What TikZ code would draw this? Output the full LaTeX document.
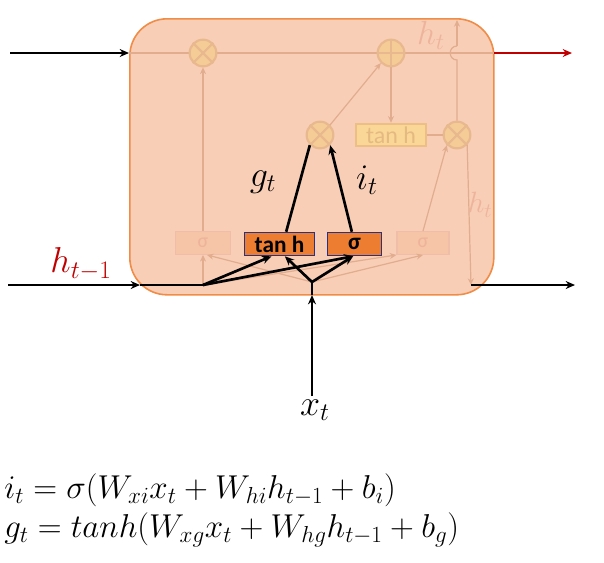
\RequirePackage{fix-cm}
\documentclass[tikz,border=0pt]{standalone}
\usepackage{fontspec}
\newfontfamily\cali{Carlito}
\usetikzlibrary{arrows.meta}
\definecolor{cellfill}{RGB}{248,206,182}
\definecolor{celledge}{RGB}{240,140,70}
\definecolor{fline}{RGB}{226,172,142}
\definecolor{fcircfill}{RGB}{246,204,150}
\definecolor{fcircedge}{RGB}{232,184,142}
\definecolor{ftanfill}{RGB}{250,215,150}
\definecolor{ftanedge}{RGB}{236,192,132}
\definecolor{ftantext}{RGB}{228,186,130}
\definecolor{fsigfill}{RGB}{246,196,166}
\definecolor{fsigedge}{RGB}{240,190,168}
\definecolor{ftext}{RGB}{238,180,155}
\definecolor{mainbox}{RGB}{237,125,49}
\definecolor{boxedge}{RGB}{40,50,130}
\definecolor{redline}{RGB}{192,0,0}
\tikzset{
  faded/.style={draw=fline, line width=0.9pt},
  fcirc/.style={circle, draw=fcircedge, fill=fcircfill, line width=1.6pt, minimum size=20pt, inner sep=0pt},
  ftan/.style={draw=ftanedge, fill=ftanfill, line width=1.4pt, minimum width=52pt, minimum height=17pt, inner sep=0pt, font=\cali\fontsize{18}{18}\selectfont, text=ftantext},
  fsig/.style={draw=fsigedge, fill=fsigfill, line width=0.9pt, minimum height=17pt, inner sep=0pt, font=\cali\fontsize{15}{15}\selectfont, text=ftext},
  mbox/.style={draw=boxedge, fill=mainbox, line width=0.9pt, minimum height=17.5pt, inner sep=0pt, font=\cali\bfseries\fontsize{17.5}{17.5}\selectfont},
  thick arrow/.style={line width=2pt, -{Stealth[length=7pt,width=6pt]}},
  thin arrow/.style={line width=1pt, -{Stealth[length=7pt,width=6pt]}},
  farrow/.style={faded, -{Stealth[length=5pt,width=4.5pt]}},
}
\begin{document}
\begin{tikzpicture}[x=0.75pt,y=-0.75pt]
\useasboundingbox (0,0) rectangle (604,562);
% cell
\node[draw=celledge, fill=cellfill, line width=1.2pt, rounded corners=28pt, minimum width=273pt, minimum height=207pt, inner sep=0pt, anchor=north west] (cell) at (129,18) {};
% coordinates
\coordinate (cin) at (129,53);
\coordinate (cout) at (494,53);
\coordinate (hin) at (140,285);
\coordinate (jl) at (203,285);
\coordinate (jx) at (312,282);
\coordinate (xin) at (312,295);
\coordinate (hout) at (471,285);
% faded top line
\draw[faded] (cin) -- (cout);
% faded circles
\node[fcirc] (m1) at (203,53) {};
\node[fcirc] (p1) at (391,53) {};
\node[fcirc] (m2) at (320,135) {};
\node[fcirc] (m3) at (457,135) {};
\foreach \n in {m1,m2,m3}{
  \draw[fcircedge, line width=1.6pt] (\n.north west) -- (\n.south east) (\n.north east) -- (\n.south west);
}
\draw[fcircedge, line width=1.6pt] (p1.north) -- (p1.south) (p1.west) -- (p1.east);
% faded tanh
\node[ftan] (ft) at (391,135) {tan h};
% faded sigma boxes
\node[fsig, minimum width=41pt] (fs1) at (203,243) {σ};
\node[fsig, minimum width=39pt] (fs2) at (423,243) {σ};
% main boxes
\node[mbox, minimum width=53pt] (tb) at (279.5,244) {tan h};
\node[mbox, minimum width=40pt] (sb) at (354.5,244) {σ};
% faded connections
\draw[farrow] (fs1.north) -- (m1.south);
\draw[farrow] (m2.north east) -- (p1.south west);
\draw[farrow] (p1.south) -- (ft.north);
\draw[faded] (ft.east) -- (m3.west);
\draw[farrow] (fs2.north) -- (m3.south west);
\draw[farrow] (m3.south east) -- (hout);
\coordinate (hopa) at (457,60);
\coordinate (hopb) at (457,46);
\coordinate (htop) at (457,20);
\draw[faded] (m3.north) -- (hopa) .. controls (448,60) and (448,46) .. (hopb);
\draw[farrow] (hopb) -- (htop);
\draw[farrow] (jl) -- (fs1.south);
\draw[farrow] (jl) -- (fs2.south west);
\draw[farrow] (jx) -- ([xshift=3pt]fs1.south);
\draw[farrow] (jx) -- (fs2.south);
\node[text=ftext, font=\fontsize{25}{25}\selectfont] (hlab1) at (431,35) {$h_t$};
\node[text=ftext, font=\fontsize{22}{22}\selectfont] (hlab2) at (480,205) {$h_t$};
% outer lines
\draw[thin arrow] (10,53) -- (cin);
\draw[thin arrow, redline] (cout) -- (572,53);
\draw[thin arrow] (hout) -- (575,285);
\draw[thick arrow] (8,285) -- (hin);
\draw[line width=2pt] (hin) -- (jl);
% black connections
\draw[thick arrow] (jl) -- ([xshift=-6pt]tb.south);
\draw[thick arrow] (jl) -- ([xshift=-1pt]sb.south);
\draw[thick arrow] (jx) -- ([xshift=4pt]tb.south);
\draw[thick arrow] (jx) -- ([xshift=-1pt]sb.south);
\node[inner sep=0pt, font=\fontsize{27}{27}\selectfont] (xt) at (315,410) {$x_t$};
\draw[thick arrow] (312,396) -- (xin);
\draw[line width=2pt] (xin) -- (jx);
\draw[line width=2pt] ([xshift=5pt]tb.north) -- (m2.south west);
\draw[thick arrow] ([xshift=-2pt]sb.north) -- (m2.south east);
\node[font=\fontsize{27}{27}\selectfont] (gt) at (263,182) {$g_t$};
\node[font=\fontsize{27}{27}\selectfont] (it) at (367,180) {$i_t$};
\node[text=redline, font=\fontsize{27}{27}\selectfont] (hprev) at (81,264) {$h_{t-1}$};
% equations
\node[anchor=west, inner sep=0pt, font=\fontsize{24.8}{24.8}\selectfont] (eq1) at (4,490) {$i_t = \sigma(W_{xi}x_t + W_{hi}h_{t-1} + b_i)$};
\node[anchor=west, inner sep=0pt, font=\fontsize{24.8}{24.8}\selectfont] (eq2) at (4,530) {$g_t = tanh(W_{xg}x_t + W_{hg}h_{t-1} + b_g)$};
\end{tikzpicture}
\end{document}
